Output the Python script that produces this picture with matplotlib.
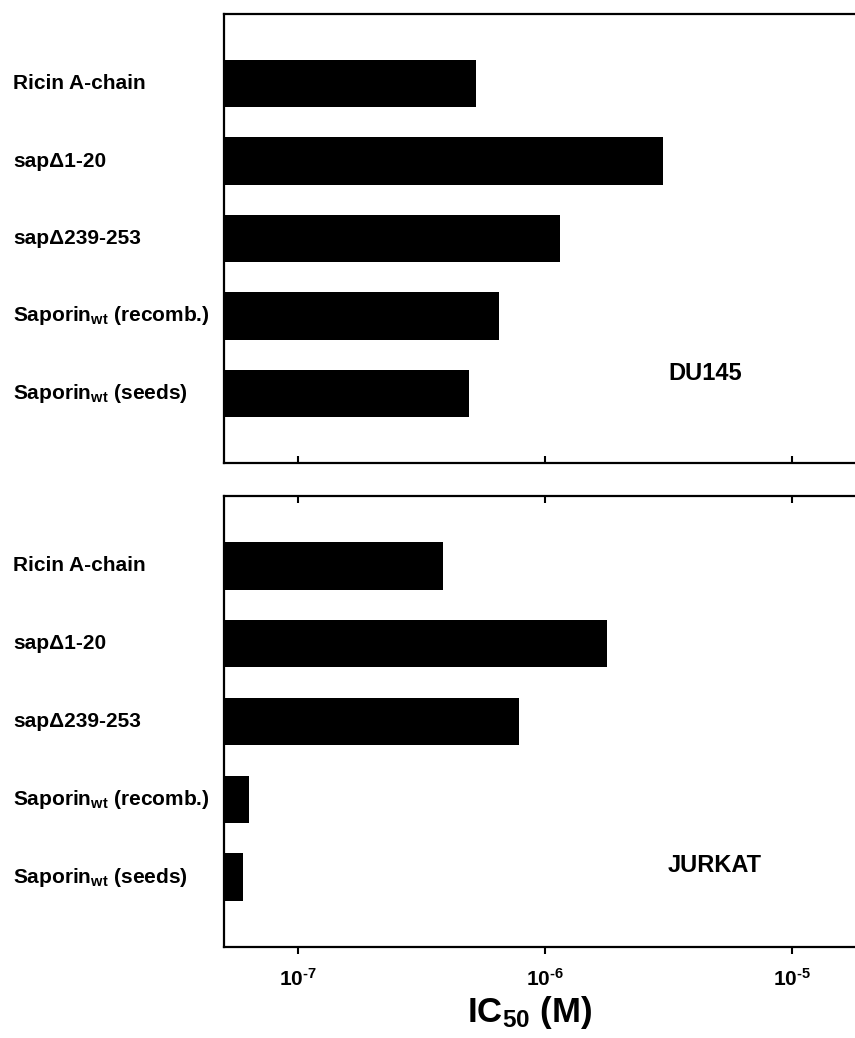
import matplotlib
matplotlib.use("Agg")
import matplotlib.pyplot as plt
import matplotlib.transforms as mtransforms
from matplotlib.ticker import NullLocator

plt.rcParams['font.family'] = ['Liberation Sans', 'DejaVu Sans']
plt.rcParams['mathtext.fontset'] = 'custom'
plt.rcParams['mathtext.rm'] = 'Liberation Sans:bold'
plt.rcParams['mathtext.bf'] = 'Liberation Sans:bold'
plt.rcParams['mathtext.it'] = 'Liberation Sans:bold'
plt.rcParams['mathtext.sf'] = 'Liberation Sans:bold'

categories = ["Ricin A-chain", "sapΔ1-20", "sapΔ239-253",
              r"Saporin$_{\rm wt}$ (recomb.)", r"Saporin$_{\rm wt}$ (seeds)"]
du145_ic50 = [5.26e-7, 3.0e-6, 1.15e-6, 6.5e-7, 4.92e-7]
jurkat_ic50 = [3.87e-7, 1.78e-6, 7.85e-7, 6.34e-8, 5.98e-8]
panel_names = ["DU145", "JURKAT"]
xtick_values = [1e-7, 1e-6, 1e-5]
xtick_labels = [r"$\mathrm{10^{\text{-}7}}$", r"$\mathrm{10^{\text{-}6}}$",
                r"$\mathrm{10^{\text{-}5}}$"]

xmin, xmax = 5.02e-8, 1.80e-5

fig = plt.figure(figsize=(8.55, 10.38), dpi=100)
W, H = 855, 1038
left = 224 / W
ax_top = fig.add_axes([left, 1 - 463 / H, 1 - left, (463 - 14) / H])
ax_bot = fig.add_axes([left, 1 - 947 / H, 1 - left, (947 - 496) / H])

for ax, vals, name in [(ax_top, du145_ic50, panel_names[0]),
                       (ax_bot, jurkat_ic50, panel_names[1])]:
    ypos = list(range(len(categories)))
    ax.set_xscale('log')
    ax.barh(ypos, [v - xmin for v in vals], left=xmin, height=0.61,
            color='black', edgecolor='none')
    ax.set_xlim(xmin, xmax)
    ax.set_ylim(4.9, -0.9)
    ax.set_yticks([])
    ax.set_xticks(xtick_values)
    ax.xaxis.set_minor_locator(NullLocator())
    for s in ['top', 'bottom', 'left']:
        ax.spines[s].set_linewidth(1.6)
    ax.spines['right'].set_visible(False)
    trans = mtransforms.blended_transform_factory(fig.transFigure, ax.transData)
    for y, lab in zip(ypos, categories):
        ax.text(13 / W, y, lab, transform=trans, ha='left', va='center',
                fontsize=15, fontweight='bold')
    ax.text(668 / W, 3.75 if ax is ax_top else 3.85, name, transform=trans,
            ha='left', va='center', fontsize=17, fontweight='bold')

ax_top.tick_params(axis='x', which='major', direction='in', top=False,
                   bottom=True, labelbottom=False, length=5, width=1.5)
ax_bot.tick_params(axis='x', which='major', direction='out', top=False,
                   bottom=True, length=5, width=1.5, pad=10)
ax_bot.set_xticklabels(xtick_labels, fontsize=15)
# inward ticks on the top edge of the lower panel
sec = ax_bot.secondary_xaxis('top')
sec.set_xticks(xtick_values)
sec.xaxis.set_minor_locator(NullLocator())
sec.tick_params(direction='in', length=5, width=1.5, labeltop=False)
sec.spines['top'].set_visible(False)

ax_bot.set_xlabel(r"IC$_{50}$ (M)", fontsize=25, fontweight='bold')
ax_bot.xaxis.set_label_coords((530 - 224) / 631, -(1022 - 947) / 451)
ax_bot.xaxis.label.set_va('baseline')

fig.savefig("out.png", dpi=100)
